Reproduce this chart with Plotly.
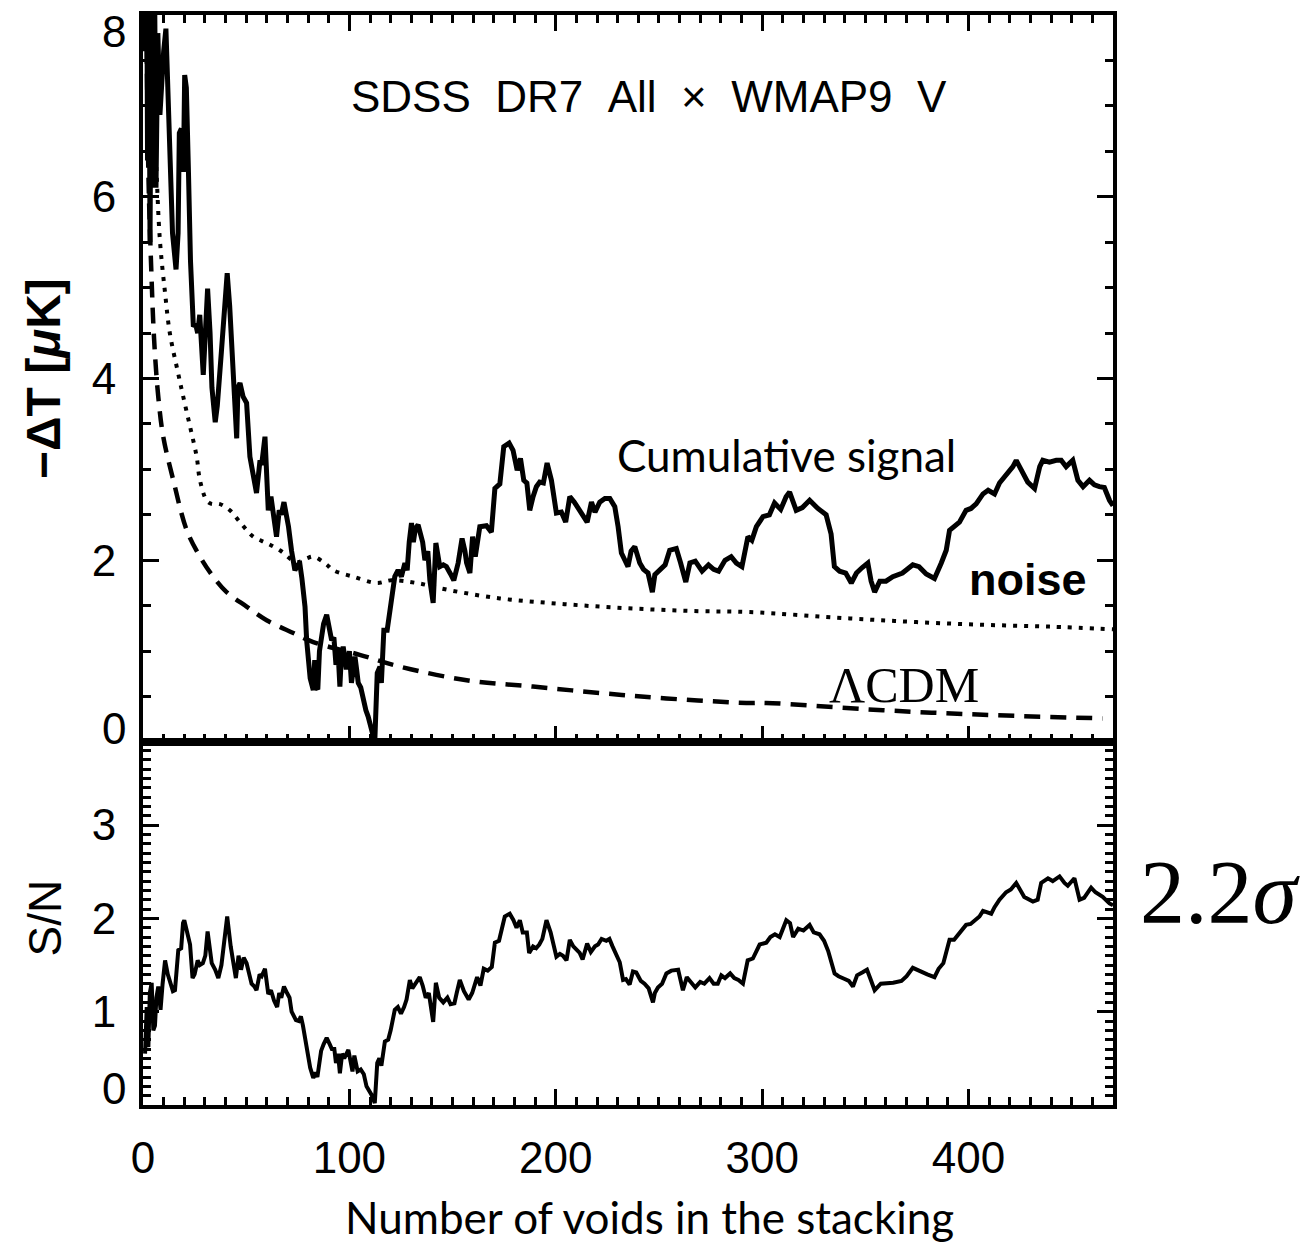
import plotly.graph_objects as go
from plotly.subplots import make_subplots

# ---- data -------------------------------------------------------------
# cumulative stacked signal  -dT [muK] vs number of stacked voids
n_signal = [0.5, 1, 1.6, 2.2, 2.8, 3.4, 4.2, 4.9, 5.6, 6.3, 7.2, 8.2, 9, 10, 11.1, 12.5, 14.3, 16, 17, 17.6,
            18.6, 19, 19.6, 20.2, 21, 22, 23, 24.4, 25.5, 26.5, 27.5, 29.2, 31.3, 32.5, 33.4, 35, 36, 38, 40.8, 42,
            43.6, 45.4, 46, 47, 48.5, 50.2, 51.8, 53.5, 55, 56.7, 57.5, 59.1, 60.7, 62, 63.5, 64.7, 66, 67, 68.3, 69.5,
            70.5, 72, 73.6, 75, 76, 77, 78.5, 79.3, 80, 81, 82.5, 83.2, 84, 84.7, 85.5, 86.5, 87.5, 89, 90, 91.4,
            92.5, 93.5, 94.5, 95.4, 96, 97, 98.5, 100, 101, 102.7, 103.5, 104.3, 105.5, 106.7, 108, 109.1, 110.5, 111.5, 112.3, 113.5,
            114.8, 115.5, 116.7, 118.3, 120.4, 122, 123.6, 125.2, 126.9, 128, 129, 130.1, 131, 132, 133.3, 134.5, 135.5, 136.6, 138, 139,
            140, 140.6, 141.9, 143, 143.8, 145.5, 147, 149, 150.6, 152.7, 154.6, 156, 156.8, 158.4, 159.7, 161, 163.2, 166.4, 168.8, 170.5,
            172.9, 174.8, 177.4, 179.3, 181.3, 182.9, 184.5, 186, 187.4, 189, 190.6, 192.2, 194, 195.8, 197.9, 200.3, 202.7, 204.8, 206.8, 209,
            211.6, 213.5, 215.2, 217.3, 219, 221.3, 223.8, 226.2, 228.6, 230.2, 231.8, 233.5, 235, 236.5, 238.3, 240.7, 242.5, 244.7, 246.8, 248,
            251, 253, 255.2, 258.4, 260.5, 263, 265, 267.6, 270.9, 274, 276.5, 278.9, 282, 285, 287.5, 290.2, 293.1, 295, 297.2, 300.4,
            303.5, 306, 309, 311.6, 313.3, 316.5, 319.5, 323, 327, 331, 333.4, 335, 337.5, 340.5, 343.2, 345.7, 348.5, 351.2, 352.8, 354.5,
            357, 360, 363.3, 368, 373, 376, 379.5, 383.5, 386.8, 389.2, 390.8, 393.2, 395.6, 398.8, 401.2, 403.7, 407, 409.5, 412.6, 415,
            418.2, 421.5, 423.1, 425.5, 428.7, 432, 434.5, 436, 439.2, 442.5, 444.9, 447.3, 450.5, 453, 455.5, 458.6, 461, 463.4, 465.8, 468.3,
            470]
dT_signal = [9.5, 7.6, 9.8, 6.4, 8.6, 5.5, 8.8, 6.1, 8.4, 6.1, 7.8, 6.9, 7.3, 7.6, 7.85, 6.8, 5.6, 5.2, 5.6, 6.7,
             6.75, 6.3, 6.3, 7.34, 7.2, 6.3, 5.3, 4.57, 4.6, 4.5, 4.7, 4.04, 4.99, 4.5, 3.9, 3.52, 3.7, 4.3, 5.16, 4.8,
             4.09, 3.34, 3.9, 3.95, 3.8, 3.73, 3.14, 2.9, 2.74, 3.1, 3.05, 3.36, 2.55, 2.7, 2.5, 2.26, 2.55, 2.5, 2.64, 2.5,
             2.37, 2.1, 1.89, 1.95, 1.96, 1.8, 1.49, 1.12, 0.98, 0.7, 0.57, 0.9, 0.6, 0.58, 1.0, 1.2, 1.3, 1.4, 1.25, 1.12,
             1.15, 0.85, 1.0, 0.61, 0.9, 1.05, 0.8, 1.0, 0.65, 0.94, 0.8, 0.65, 0.6, 0.46, 0.35, 0.28, 0.15, 0.06, 0.0, 0.76,
             0.83, 0.65, 1.23, 1.23, 1.56, 1.82, 1.89, 1.82, 1.97, 1.89, 2.2, 2.41, 2.2, 2.35, 2.39, 2.3, 2.2, 2.0, 2.1, 1.78,
             1.6, 1.53, 2.19, 2.0, 1.93, 1.95, 1.93, 1.85, 1.78, 1.97, 2.24, 2.1, 1.97, 1.86, 2.26, 2.04, 2.37, 2.38, 2.31, 2.79,
             2.84, 3.25, 3.29, 3.21, 2.99, 3.12, 2.88, 2.85, 2.55, 2.7, 2.81, 2.86, 2.85, 3.07, 2.88, 2.52, 2.53, 2.42, 2.7, 2.64,
             2.55, 2.5, 2.42, 2.64, 2.53, 2.64, 2.68, 2.68, 2.59, 2.37, 2.08, 2.0, 1.93, 2.1, 2.15, 1.97, 1.9, 1.86, 1.65, 1.84,
             1.91, 1.95, 2.11, 2.13, 1.97, 1.76, 1.97, 1.99, 1.88, 1.95, 1.9, 1.88, 2.0, 2.04, 1.97, 1.93, 2.26, 2.22, 2.37, 2.48,
             2.5, 2.63, 2.56, 2.70, 2.75, 2.55, 2.58, 2.66, 2.57, 2.5, 2.29, 1.93, 1.88, 1.86, 1.75, 1.86, 1.92, 1.97, 1.77, 1.65,
             1.77, 1.77, 1.82, 1.86, 1.95, 1.93, 1.85, 1.8, 1.97, 2.11, 2.33, 2.37, 2.42, 2.55, 2.57, 2.62, 2.73, 2.77, 2.73, 2.85,
             2.94, 3.03, 3.1, 2.99, 2.86, 2.79, 3.03, 3.1, 3.08, 3.1, 3.1, 3.03, 3.1, 2.88, 2.81, 2.88, 2.83, 2.81, 2.8, 2.66,
             2.6]

# noise level of the stack
n_noise = [4, 5, 6.5, 8.2, 10.7, 13, 17.1, 19.5, 22.8, 26, 27.6, 30.8, 33.2, 37, 42.1, 47, 53.4, 59.9, 66.3, 74.4,
           79.3, 82.5, 88.6, 92.2, 101.8, 113.2, 120.4, 132.5, 148.7, 172.9, 197.1, 221.3, 245.5, 269.7, 294, 342.4, 374.7, 406.9, 439.2, 470]
dT_noise = [7.9, 7.1, 6.3, 5.52, 4.94, 4.5, 4.05, 3.8, 3.47, 3.14, 2.88, 2.66, 2.62, 2.62, 2.55, 2.42, 2.26, 2.19, 2.11, 1.98,
            2.02, 2.04, 1.96, 1.89, 1.82, 1.75, 1.78, 1.75, 1.67, 1.58, 1.53, 1.49, 1.46, 1.44, 1.43, 1.36, 1.32, 1.29, 1.27, 1.24]

# LambdaCDM expectation
n_lcdm = [1.5, 2, 2.5, 3, 4, 5, 6, 7.4, 9.8, 14.7, 21.2, 27.6, 34, 40.5, 50.2, 59.9, 72.8, 82.5, 105, 124.5,
          156.8, 189, 221.3, 253.6, 292.3, 302, 358.5, 407, 465]
dT_lcdm = [8.5, 7.2, 6.4, 5.9, 5.2, 4.6, 4.2, 3.8, 3.36, 2.88, 2.33, 2.04, 1.82, 1.65, 1.49, 1.34, 1.2, 1.1, 0.96, 0.83,
           0.68, 0.61, 0.54, 0.48, 0.43, 0.43, 0.35, 0.3, 0.26]

# signal-to-noise of the cumulative stack
n_sn = [1, 1.8, 2.6, 3.3, 4.2, 5, 5.8, 6.5, 7.4, 8.5, 9.5, 10.7, 12, 13.1, 14.5, 15.5, 16.3, 17.1, 18.5, 19.4,
        20, 21, 22.8, 24, 25, 26.5, 27.5, 29, 30.2, 31.3, 32.3, 33.3, 35, 36.5, 38, 39.5, 40.8, 42.5, 44, 45,
        46.3, 47.5, 48.8, 50.2, 51.5, 52.6, 54, 55, 56.5, 57.5, 59.1, 60.7, 62, 63.5, 65, 66, 67, 68.3, 69.8, 71,
        72, 74.1, 75.5, 76.5, 77.5, 78.5, 80, 81, 82.5, 83.5, 84.5, 85.3, 86.3, 87.5, 89, 90.5, 91.5, 92.7, 93.5, 94.5,
        95.4, 96.5, 97.5, 99.5, 100.5, 101.5, 102.4, 103.2, 104, 105.5, 107, 108.3, 109.5, 110.7, 112.3, 113.5, 114.5, 115.5, 117.2, 118.8,
        120, 122, 123.5, 125, 126.5, 127.7, 129.3, 130.5, 132, 134.1, 135.5, 137, 138.5, 140, 140.6, 141.9, 143.5, 145.5, 147.5, 149,
        150.9, 152, 153.5, 155.5, 157.8, 159.5, 161.9, 163.5, 165.1, 167, 169, 170.5, 172.5, 174, 175.3, 177.7, 179.5, 181, 182.6, 184,
        186, 187.1, 189, 190.5, 192, 193.5, 195.5, 197.5, 199, 200.3, 202, 203.5, 205.2, 206.8, 208.5, 210, 211.6, 213, 215.2, 217,
        219, 220.5, 222.2, 224.5, 226, 227.5, 229, 231, 232.6, 234, 235.8, 237.4, 239, 241.2, 243, 245, 247.1, 248, 249.5, 251.5,
        253.6, 256, 259.3, 260.5, 261.6, 263.5, 265, 267.6, 270, 272, 274.5, 276.5, 278.5, 280.2, 282, 284.5, 286.5, 288.5, 290.7, 293,
        295.5, 298.8, 302, 304, 306.2, 308.5, 311.7, 313.5, 315, 317.5, 320, 323, 325, 327.8, 330, 332, 335.1, 337, 340, 342,
        344, 346, 348.5, 350.8, 352.5, 354.5, 357.5, 361, 363.5, 367.5, 370, 373, 376.5, 380, 383.5, 385.5, 387.8, 390.8, 393, 395.6,
        398.8, 401, 405.3, 407, 409.4, 411, 412.6, 415, 418.2, 420.5, 423.1, 425.5, 427, 431.2, 433.5, 435.2, 438.5, 440.8, 444.1, 446.5,
        448.1, 451.3, 453.8, 456, 459.4, 461.5, 465, 468.3, 470]
sn = [0.55, 1.05, 0.62, 1.2, 1.31, 0.8, 0.85, 1.15, 1.27, 1.02, 1.3, 1.55, 1.4, 1.31, 1.22, 1.23, 1.5, 1.66, 1.68, 1.95,
      1.98, 1.9, 1.72, 1.36, 1.4, 1.55, 1.5, 1.52, 1.6, 1.86, 1.7, 1.52, 1.45, 1.36, 1.5, 1.75, 2.02, 1.7, 1.5, 1.36,
      1.6, 1.45, 1.58, 1.52, 1.4, 1.3, 1.27, 1.23, 1.4, 1.38, 1.46, 1.19, 1.23, 1.12, 1.05, 1.2, 1.15, 1.27, 1.2, 1.15,
      1.0, 0.91, 0.9, 0.95, 0.85, 0.73, 0.52, 0.4, 0.29, 0.35, 0.3, 0.45, 0.58, 0.65, 0.72, 0.65, 0.6, 0.6, 0.45, 0.55,
      0.34, 0.55, 0.5, 0.59, 0.45, 0.36, 0.53, 0.45, 0.36, 0.38, 0.33, 0.2, 0.15, 0.11, 0.02, 0.45, 0.5, 0.42, 0.68, 0.7,
      0.8, 1.02, 1.05, 0.98, 1.05, 1.13, 1.34, 1.25, 1.3, 1.37, 1.28, 1.15, 1.2, 0.95, 0.89, 1.31, 1.15, 1.1, 1.15, 1.08,
      1.09, 1.2, 1.34, 1.22, 1.13, 1.2, 1.37, 1.28, 1.46, 1.44, 1.48, 1.74, 1.76, 1.9, 2.02, 2.05, 1.98, 1.9, 1.98, 1.85,
      1.85, 1.63, 1.7, 1.68, 1.72, 1.78, 1.98, 1.85, 1.7, 1.59, 1.62, 1.6, 1.55, 1.77, 1.7, 1.66, 1.63, 1.56, 1.73, 1.64,
      1.7, 1.72, 1.78, 1.76, 1.78, 1.7, 1.62, 1.53, 1.34, 1.35, 1.29, 1.43, 1.42, 1.33, 1.3, 1.25, 1.1, 1.2, 1.26, 1.3,
      1.41, 1.44, 1.45, 1.35, 1.23, 1.37, 1.33, 1.26, 1.32, 1.3, 1.36, 1.3, 1.3, 1.39, 1.36, 1.41, 1.36, 1.34, 1.3, 1.55,
      1.57, 1.72, 1.74, 1.8, 1.83, 1.8, 1.98, 1.95, 1.8, 1.89, 1.87, 1.93, 1.85, 1.83, 1.76, 1.65, 1.41, 1.38, 1.35, 1.33,
      1.27, 1.39, 1.42, 1.45, 1.35, 1.23, 1.3, 1.3, 1.31, 1.33, 1.38, 1.47, 1.43, 1.4, 1.37, 1.46, 1.52, 1.77, 1.77, 1.84,
      1.93, 1.94, 2.02, 2.08, 2.06, 2.05, 2.12, 2.2, 2.28, 2.31, 2.38, 2.28, 2.23, 2.18, 2.2, 2.38, 2.43, 2.4, 2.45, 2.38,
      2.35, 2.43, 2.2, 2.22, 2.33, 2.28, 2.23, 2.16, 2.14]

x_ticks = [0, 100, 200, 300, 400]
top_ticks = [0, 2, 4, 6, 8]
bottom_ticks = [0, 1, 2, 3]

# ---- figure -----------------------------------------------------------
TICK_FONT = dict(family="Liberation Sans, Arial, sans-serif", size=44, color="black")
HUMANIST = "Lato, Open Sans, sans-serif"
GAP = "\u00a0\u00a0"

fig = make_subplots(rows=2, cols=1, shared_xaxes=True, vertical_spacing=0,
                    row_heights=[0.667, 0.333])

fig.add_trace(go.Scatter(x=n_lcdm, y=dT_lcdm, mode="lines",
                         line=dict(color="black", width=4.5, dash="16px,10px"),
                         line_shape="spline"), row=1, col=1)
fig.add_trace(go.Scatter(x=n_noise, y=dT_noise, mode="lines",
                         line=dict(color="black", width=4, dash="4px,7px"),
                         line_shape="spline"), row=1, col=1)
fig.add_trace(go.Scatter(x=n_signal, y=dT_signal, mode="lines",
                         line=dict(color="black", width=5)), row=1, col=1)
fig.add_trace(go.Scatter(x=n_sn, y=sn, mode="lines",
                         line=dict(color="black", width=4)), row=2, col=1)

axis_common = dict(showline=True, linewidth=4, linecolor="black", mirror="allticks",
                   ticks="inside", ticklen=16, tickwidth=3, tickcolor="black",
                   showgrid=False, zeroline=False, tickfont=TICK_FONT)

minor_x = dict(dtick=10, ticks="inside", ticklen=8, tickwidth=3, tickcolor="black", showgrid=False)

fig.update_xaxes(range=[0, 470], tickmode="array", tickvals=x_ticks,
                 ticktext=[str(v) for v in x_ticks], minor=minor_x, **axis_common)
fig.update_xaxes(showticklabels=False, row=1, col=1)
# lower panel: ticks only along the bottom edge, plain line along the shared edge
fig.update_xaxes(ticklabelstandoff=11, mirror=True, row=2, col=1)

fig.update_yaxes(range=[0, 8], tickmode="linear", tick0=0, dtick=2,
                 labelalias={"0": " ", "8": " "}, ticklabelstandoff=14,
                 minor=dict(dtick=0.5, ticks="inside", ticklen=8, tickwidth=3,
                            tickcolor="black", showgrid=False),
                 row=1, col=1, **axis_common)
fig.update_yaxes(range=[0, 3.89], tickmode="linear", tick0=0, dtick=1,
                 labelalias={"0": " "}, ticklabelstandoff=14,
                 minor=dict(dtick=0.1, ticks="inside", ticklen=8, tickwidth=3,
                            tickcolor="black", showgrid=False),
                 row=2, col=1, **axis_common)

annotations = []
# end-of-axis tick labels nudged inside the frame
for val, yref, shift in [(top_ticks[-1], "y", -16), (top_ticks[0], "y", 14), (bottom_ticks[0], "y2", 17)]:
    annotations.append(dict(text=str(val), xref="paper", x=0, xanchor="right", xshift=-15,
                            yref=yref, y=val, yanchor="middle", yshift=shift,
                            showarrow=False, font=TICK_FONT))

centered = dict(showarrow=False, xanchor="center", yanchor="middle")
annotations += [
    dict(text=GAP.join(["SDSS", "DR7", "All", "×", "WMAP9", "V"]), xref="x", yref="y", x=245, y=7.1,
         font=dict(family="Liberation Sans, Arial", size=44, color="black"), **centered),
    dict(text="Cumulative signal", xref="x", yref="y", x=311.9, y=3.16,
         font=dict(family=HUMANIST, size=44, color="black"), **centered),
    dict(text="<b>noise</b>", xref="x", yref="y", x=428.6, y=1.79,
         font=dict(family="Liberation Sans, Arial", size=45, color="black"), **centered),
    dict(text="ΛCDM", xref="x", yref="y", x=368.5, y=0.63,
         font=dict(family="Liberation Serif, Times New Roman, serif", size=50, color="black"), **centered),
    dict(text="2.2<i>σ</i>", xref="paper", yref="paper", x=1.111, y=0.1945,
         font=dict(family="Liberation Serif, Times New Roman, serif", size=90, color="black"), **centered),
    dict(text="Number of voids in the stacking", xref="paper", yref="paper", x=0.522, y=-0.1028,
         font=dict(family=HUMANIST, size=44, color="black"), **centered),
    dict(text="<b>−ΔT [<i>μ</i>K]</b>", xref="paper", yref="paper", x=-0.1021, y=0.667,
         textangle=-90, font=dict(family="Liberation Sans, Arial", size=48, color="black"), **centered),
    dict(text="S/N", xref="paper", yref="paper", x=-0.1011, y=0.172,
         textangle=-90, font=dict(family="Liberation Sans, Arial", size=46, color="black"), **centered),
]

fig.update_layout(width=1316, height=1244, showlegend=False,
                  margin=dict(l=143, r=203, t=15, b=139),
                  paper_bgcolor="white", plot_bgcolor="white",
                  annotations=annotations)

fig.write_html("out.html", config={"displayModeBar": False})
